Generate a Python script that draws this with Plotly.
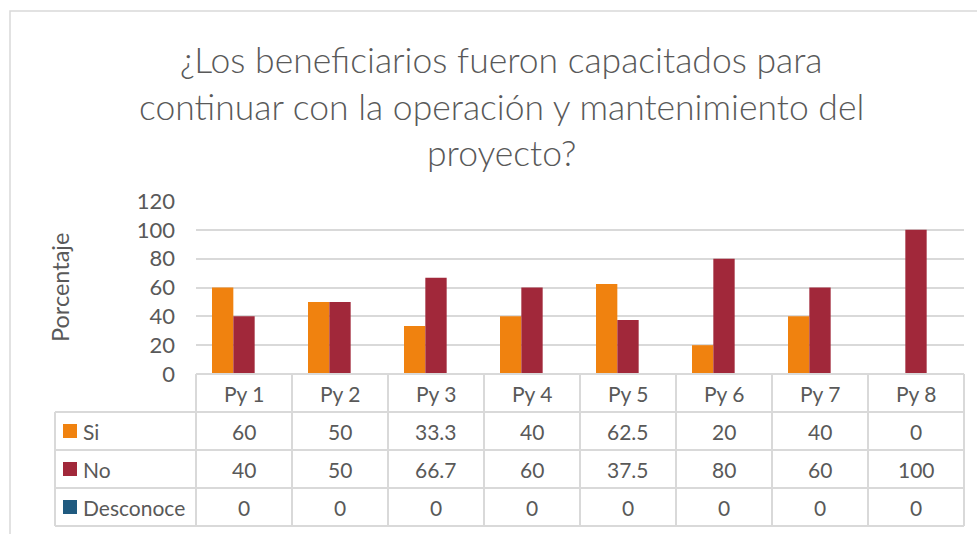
import plotly.graph_objects as go

# ---------------- data ----------------
categories = ["Py 1", "Py 2", "Py 3", "Py 4", "Py 5", "Py 6", "Py 7", "Py 8"]
si_values = [60, 50, 33.3, 40, 62.5, 20, 40, 0]
no_values = [40, 50, 66.7, 60, 37.5, 80, 60, 100]
desconoce_values = [0, 0, 0, 0, 0, 0, 0, 0]
series_names = ["Si", "No", "Desconoce"]
y_ticks = [0, 20, 40, 60, 80, 100, 120]
title_lines = ["¿Los beneficiarios fueron capacitados para",
               "continuar con la operación y mantenimiento del",
               "proyecto?"]
y_title = "Porcentaje"

# ---------------- style ----------------
colors = ["#F0820F", "#A1283A", "#1F5A7F"]
text_color = "#595959"
grid_color = "#D9D9D9"
font_family = "Lato"

W_FIG, H_FIG = 977, 534
L, R, T, B = 196, 964, 201, 374  # plot area in pixels
PW, PH = R - L, B - T


def px_x(px):
    return (px - L) / PW


def px_y(py):
    return (B - py) / PH


series_values = [si_values, no_values, desconoce_values]

fig = go.Figure()
for name, vals, col in zip(series_names, series_values, colors):
    fig.add_trace(go.Bar(x=categories, y=vals, name=name, marker_color=col,
                         marker_line_width=0, showlegend=False))

shapes = []
annotations = []

# title lines
title_centers = [60, 106, 152]
for line, cy in zip(title_lines, title_centers):
    annotations.append(dict(text=line, xref="paper", yref="paper",
                            x=px_x(501), y=px_y(cy), xanchor="center", yanchor="middle",
                            showarrow=False,
                            font=dict(size=35.5, color=text_color, family=font_family, weight=300)))

# y-axis title
annotations.append(dict(text=y_title, xref="paper", yref="paper", x=px_x(60), y=px_y(288),
                        textangle=-90, xanchor="center", yanchor="middle", showarrow=False,
                        font=dict(size=23.5, color=text_color, family=font_family)))

# ---- data table ----
n = len(categories)
row_h = 38
header_top = B
rows_top = [header_top + row_h * (k + 1) for k in range(len(series_names))]
table_bottom = header_top + row_h * (len(series_names) + 1)
legend_left = 55
line_style = dict(color=grid_color, width=2)

# horizontal lines
shapes.append(dict(type="line", xref="paper", yref="paper", x0=px_x(L), x1=px_x(R),
                   y0=px_y(header_top), y1=px_y(header_top), line=line_style))
for yy in rows_top + [table_bottom]:
    shapes.append(dict(type="line", xref="paper", yref="paper", x0=px_x(legend_left), x1=px_x(R),
                       y0=px_y(yy), y1=px_y(yy), line=line_style))
# vertical lines
for i in range(n + 1):
    xx = L + PW * i / n
    shapes.append(dict(type="line", xref="paper", yref="paper", x0=px_x(xx), x1=px_x(xx),
                       y0=px_y(header_top), y1=px_y(table_bottom), line=line_style))
shapes.append(dict(type="line", xref="paper", yref="paper", x0=px_x(legend_left), x1=px_x(legend_left),
                   y0=px_y(rows_top[0]), y1=px_y(table_bottom), line=line_style))

cell_font = dict(size=21, color=text_color, family=font_family)
# header
for i, c in enumerate(categories):
    annotations.append(dict(text=c, xref="paper", yref="paper", x=(i + 0.5) / n,
                            y=px_y(header_top + row_h / 2), xanchor="center", yanchor="middle",
                            showarrow=False, font=cell_font))
# rows
for k, (name, vals, col) in enumerate(zip(series_names, series_values, colors)):
    yc = header_top + row_h * (k + 1) + row_h / 2
    shapes.append(dict(type="rect", xref="paper", yref="paper", x0=px_x(63), x1=px_x(77),
                       y0=px_y(yc - 7), y1=px_y(yc + 7), fillcolor=col, line=dict(width=0)))
    annotations.append(dict(text=name, xref="paper", yref="paper", x=px_x(81), y=px_y(yc),
                            xanchor="left", yanchor="middle", showarrow=False, font=cell_font))
    for i, v in enumerate(vals):
        annotations.append(dict(text=f"{v:g}", xref="paper", yref="paper", x=(i + 0.5) / n,
                                y=px_y(yc), xanchor="center", yanchor="middle",
                                showarrow=False, font=cell_font))

# outer chart border
shapes.append(dict(type="rect", xref="paper", yref="paper", x0=px_x(10), x1=px_x(990),
                   y0=px_y(545), y1=px_y(11), line=dict(color=grid_color, width=1.5),
                   fillcolor="rgba(0,0,0,0)", layer="below"))

fig.update_layout(
    width=W_FIG, height=H_FIG,
    margin=dict(l=L, r=W_FIG - R, t=T, b=H_FIG - B, autoexpand=False),
    paper_bgcolor="white", plot_bgcolor="white",
    barmode="group", bargap=1 / 3, bargroupgap=0,
    font=dict(family=font_family, color=text_color),
    shapes=shapes, annotations=annotations,
    xaxis=dict(showticklabels=False, showgrid=False, zeroline=False, showline=False,
               ticks=""),
    yaxis=dict(range=[0, 120], tickvals=y_ticks, showgrid=True, gridcolor=grid_color,
               gridwidth=1.5, zeroline=False, showline=False, ticks="",
               ticklabelstandoff=20, tickfont=dict(size=22, color=text_color, family=font_family)),
)

fig.write_html("out.html", config={"displayModeBar": False},
               post_script="document.body.style.margin='0';document.body.style.overflow='hidden';")
